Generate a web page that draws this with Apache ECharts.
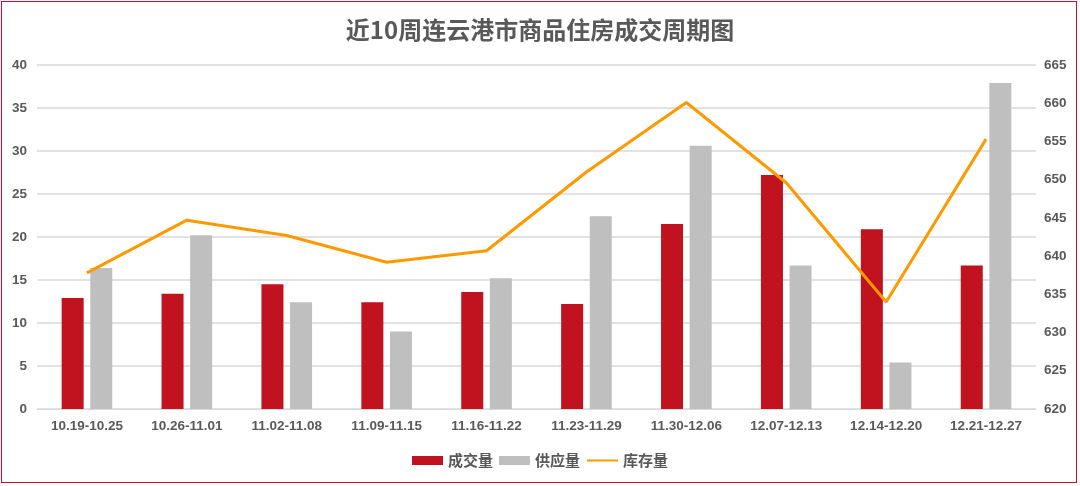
<!DOCTYPE html>
<html lang="zh">
<head>
    <meta charset="UTF-8">
    <title>近10周连云港市商品住房成交周期图</title>
    <script src="https://cdn.jsdelivr.net/npm/echarts@6/dist/echarts.min.js"></script>
    <style>
        html, body { margin: 0; padding: 0; background: #fff; }
        #frame {
            position: absolute; left: 1px; top: 1px;
            width: 1076px; height: 482px;
            border: 1px solid #c8102e; box-sizing: border-box;
        }
        #chart { position: absolute; left: 0; top: 0; width: 1080px; height: 486px; }
    </style>
</head>
<body>
    <div id="chart"></div>
    <div id="frame"></div>
    <script>
        // 周次
        const weeks = ['10.19-10.25', '10.26-11.01', '11.02-11.08', '11.09-11.15', '11.16-11.22',
                       '11.23-11.29', '11.30-12.06', '12.07-12.13', '12.14-12.20', '12.21-12.27'];
        // 成交量（万㎡）
        const dealVolume = [12.9, 13.4, 14.5, 12.4, 13.6, 12.2, 21.5, 27.2, 20.9, 16.7];
        // 供应量
        const supplyVolume = [16.4, 20.2, 12.4, 9.0, 15.2, 22.4, 30.6, 16.7, 5.4, 37.9];
        // 库存量（右轴）
        const stockVolume = [637.8, 644.7, 642.7, 639.2, 640.7, 651.0, 660.1, 649.6, 634.0, 655.3];

        const textColor = '#595959';
        const labelFont = { color: textColor, fontSize: 13.5, fontWeight: 'bold', fontFamily: 'Liberation Sans, Arial, sans-serif' };

        const option = {
            animation: false,
            title: {
                text: '近10周连云港市商品住房成交周期图',
                left: 'center',
                top: 13,
                textStyle: { color: textColor, fontSize: 24, fontWeight: 'bold', fontFamily: 'Noto Sans CJK SC' }
            },
            legend: {
                bottom: 13,
                left: 'center',
                itemWidth: 31,
                itemHeight: 9,
                itemGap: 6,
                textStyle: { color: textColor, fontSize: 15, fontWeight: 'bold', fontFamily: 'Noto Sans CJK SC' },
                data: [
                    { name: '成交量', icon: 'rect' },
                    { name: '供应量', icon: 'rect' },
                    { name: '库存量', itemStyle: { opacity: 0 } }
                ]
            },
            grid: { left: 37, right: 44, top: 65, bottom: 77 },
            xAxis: {
                type: 'category',
                data: weeks,
                axisLine: { lineStyle: { color: '#d9d9d9', width: 1 } },
                axisTick: { show: false },
                axisLabel: Object.assign({ margin: 10 }, labelFont)
            },
            yAxis: [
                {
                    type: 'value', min: 0, max: 40, interval: 5,
                    axisLine: { show: false }, axisTick: { show: false },
                    splitLine: { lineStyle: { color: '#d9d9d9', width: 1.5 } },
                    axisLabel: Object.assign({ margin: 10 }, labelFont)
                },
                {
                    type: 'value', min: 620, max: 665, interval: 5,
                    axisLine: { show: false }, axisTick: { show: false },
                    splitLine: { show: false },
                    axisLabel: Object.assign({ margin: 8 }, labelFont)
                }
            ],
            series: [
                {
                    name: '成交量', type: 'bar', data: dealVolume,
                    barWidth: 22, barGap: '30%',
                    itemStyle: { color: '#c0121f' }
                },
                {
                    name: '供应量', type: 'bar', data: supplyVolume,
                    barWidth: 22,
                    itemStyle: { color: '#bfbfbf' }
                },
                {
                    name: '库存量', type: 'line', yAxisIndex: 1, data: stockVolume,
                    showSymbol: false, symbol: 'none',
                    lineStyle: { color: '#ff9900', width: 3 },
                    itemStyle: { color: '#ff9900' }
                }
            ]
        };

        const chart = echarts.init(document.getElementById('chart'));
        chart.setOption(option);
    </script>
</body>
</html>
